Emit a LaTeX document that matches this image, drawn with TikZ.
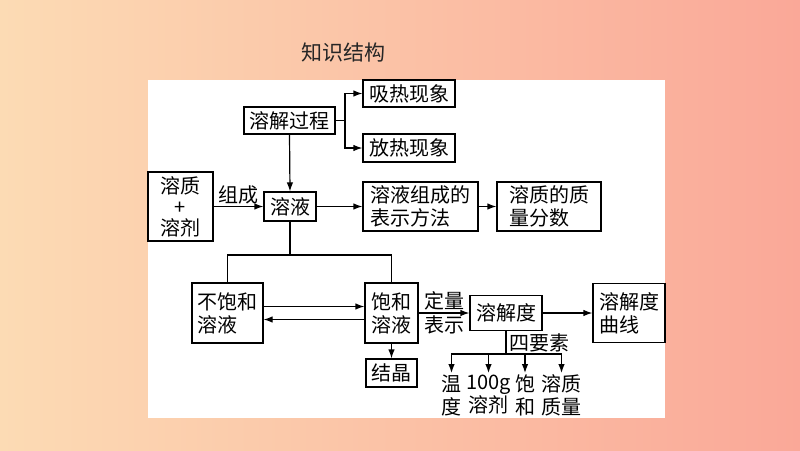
\documentclass[tikz,border=0pt]{standalone}
\usepackage{fontspec}
\setmainfont{Noto Sans CJK SC}
\usepackage{tikz}
\usetikzlibrary{arrows.meta, calc}

\definecolor{bgleft}{RGB}{252,219,180}
\definecolor{bgright}{RGB}{250,168,152}
\tikzset{
  kuang/.style={draw, line width=1.2pt, inner sep=2pt, align=left, font=\fontsize{20}{23}\selectfont},
  wenzi/.style={inner sep=1pt, align=center, font=\fontsize{20}{23}\selectfont},
}

\begin{document}
\begin{tikzpicture}[x=1pt, y=-1pt, >={Latex[length=9pt,width=6.5pt]}, line width=1.2pt]
\useasboundingbox (0,0) rectangle (800,450);
\shade[left color=bgleft, right color=bgright] (0,0) rectangle (800,450);
\fill[white] (148,80) rectangle (665,418);
\path
(343,53) node[font=\fontsize{21}{24}\selectfont, text=black!85]{知识结构};
% boxes
\node[kuang, minimum width=91pt, minimum height=27pt] (guocheng) at (289.5,120.5) {溶解过程};
\node[kuang, minimum width=92pt, minimum height=27pt] (xire) at (409,93.5) {吸热现象};
\node[kuang, minimum width=92pt, minimum height=28pt] (fangre) at (409,148) {放热现象};
\node[kuang, align=center, minimum width=65pt, minimum height=69pt, font=\fontsize{20}{21}\selectfont] (zhiji) at (180.5,206.5) {溶质\\+\\溶剂};
\node[kuang, minimum width=52pt, minimum height=29pt] (rongye) at (290,206.5) {溶液};
\node[kuang, minimum width=115pt, minimum height=49pt] (biaoshi) at (420.5,206.5) {溶液组成的\\表示方法};
\node[kuang, minimum width=104pt, minimum height=49pt] (fenshu) at (549,206.5) {溶质的质\\量分数};
\node[kuang, minimum width=71pt, minimum height=60pt] (buhe) at (227.5,313) {不饱和\\溶液};
\node[kuang, minimum width=53pt, minimum height=60pt] (baohe) at (391.5,313) {饱和\\溶液};
\node[kuang, minimum width=51pt, minimum height=28pt] (jiejing) at (391.5,373) {结晶};
\node[kuang, minimum width=72pt, minimum height=35pt] (rongjiedu) at (506,313) {溶解度};
\node[kuang, minimum width=72pt, minimum height=59pt] (quxian) at (629,313) {溶解度\\曲线};
% four factors
\node[wenzi, anchor=north] (wendu) at (451.5,373) {温\\度};
\node[wenzi, anchor=north] (rongji) at (488.5,373) {100g\\溶剂};
\node[wenzi, anchor=north] (baohe2) at (525,373) {饱\\和};
\node[wenzi, anchor=north] (zhiliang) at (561.5,373) {溶质\\质量};
\coordinate (fenzhi) at (345,120.5);
\coordinate (fencha) at (290,255);
\coordinate (yaosu) at (506,354);
% connectors
\draw (guocheng.east) -- (fenzhi);
\draw[->] (fenzhi) |- (xire.west);
\draw[->] (fenzhi) |- (fangre.west);
\draw[->] (guocheng.south) -- (rongye.north);
\draw[->] (zhiji.east) -- node[wenzi, above=1pt]{组成} (rongye.west);
\draw[->] (rongye.east) -- (biaoshi.west);
\draw[->] (biaoshi.east) -- (fenshu.west);
\draw (rongye.south) -- (fencha);
\draw (fencha) -| (buhe.north);
\draw (fencha) -| (baohe.north);
\draw[->] ([yshift=6.5pt]buhe.east) -- ([yshift=6.5pt]baohe.west);
\draw[->] ([yshift=-6.5pt]baohe.west) -- ([yshift=-6.5pt]buhe.east);
\draw[->] (baohe.south) -- (jiejing.north);
\draw[->] (baohe.east) -- node[wenzi, above=1pt]{定量} node[wenzi, below=1pt]{表示} (rongjiedu.west);
\draw[->] (rongjiedu.east) -- (quxian.west);
\draw (rongjiedu.south) -- node[wenzi, right=2pt]{四要素} (yaosu);
\foreach \n in {wendu, rongji, baohe2, zhiliang} \draw[->] (yaosu) -| (\n.north);
\end{tikzpicture}
\end{document}
